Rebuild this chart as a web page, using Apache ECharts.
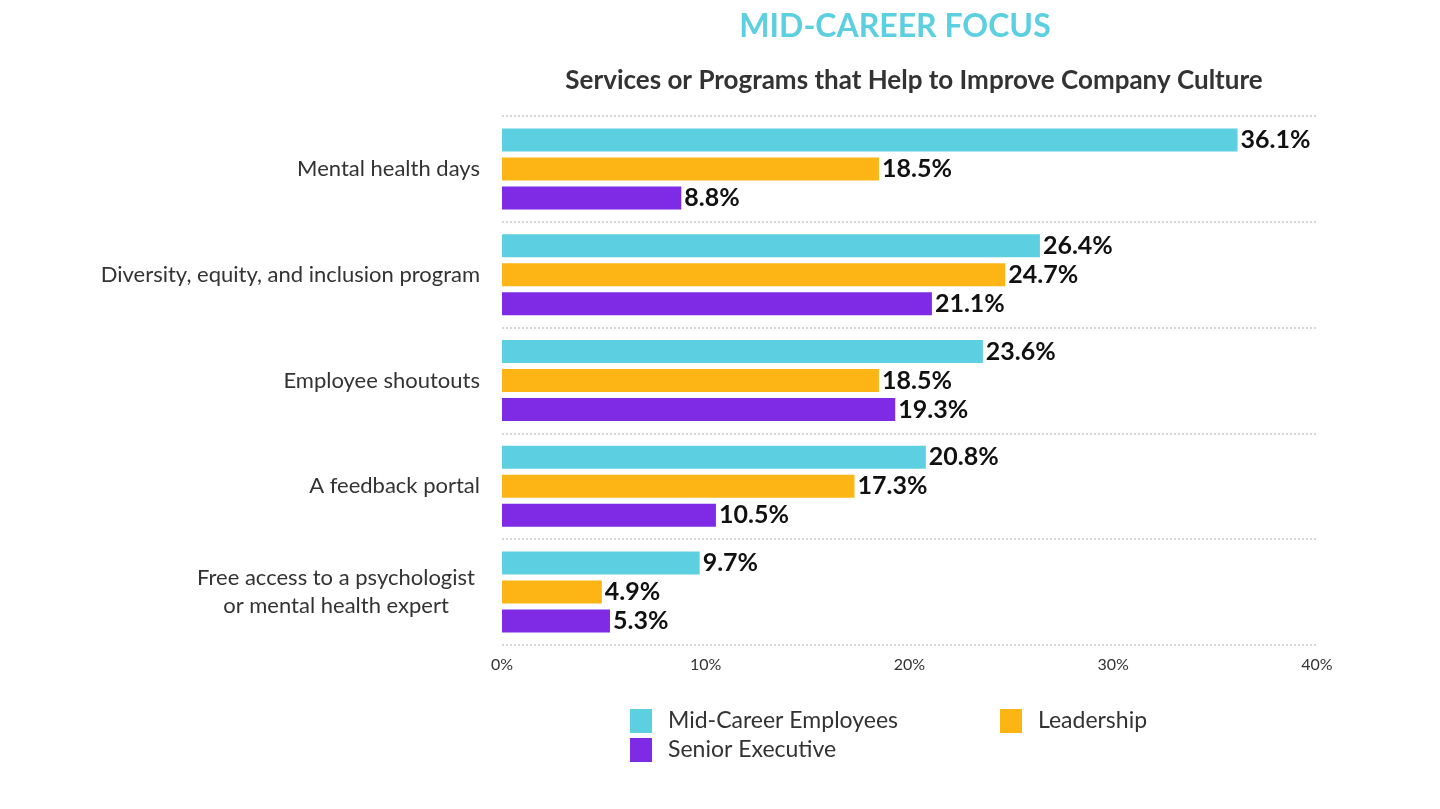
<!DOCTYPE html>
<html><head><meta charset="utf-8">
<script src="https://cdn.jsdelivr.net/npm/echarts@6/dist/echarts.min.js"></script>
<style>html,body{margin:0;padding:0;background:#fff}#c{width:1440px;height:809px}</style>
</head><body><div id="c"></div>
<script>
const categories = ["Mental health days","Diversity, equity, and inclusion program","Employee shoutouts","A feedback portal","Free access to a psychologist\nor mental health expert"];
const seriesNames = ["Mid-Career Employees","Leadership","Senior Executive"];
const midCareer = [36.1, 26.4, 23.6, 20.8, 9.7];
const leadership = [18.5, 24.7, 18.5, 17.3, 4.9];
const seniorExec = [8.8, 21.1, 19.3, 10.5, 5.3];
const xTicks = [0, 10, 20, 30, 40];
const colors = ["#5ccfe0", "#fdb515", "#7f2be6"];

const chart = echarts.init(document.getElementById('c'));
const F = 'Lato';
function mk(name, data, color) {
  return {
    name, type: 'bar', data, barWidth: 23, barGap: '26%',
    itemStyle: { color },
    label: { show: true, position: 'right', distance: 3, formatter: p => p.value.toFixed(1) + '%',
      fontFamily: F, fontWeight: 'bold', fontSize: 25, color: '#111' }
  };
}
const legText = { fontFamily: F, fontSize: 23, color: '#333', padding: [0, 0, 0, 11] };
chart.setOption({
  animation: false,
  title: [
    { text: 'MID-CAREER FOCUS', left: 890, top: 6, textAlign: 'center',
      textStyle: { fontFamily: F, fontWeight: 'bold', fontSize: 32, color: '#5ccfe0' } },
    { text: 'Services or Programs that Help to Improve Company Culture', left: 909, top: 63, textAlign: 'center',
      textStyle: { fontFamily: F, fontWeight: 'bold', fontSize: 26, color: '#333' } }
  ],
  legend: [
    { data: [seriesNames[0], seriesNames[2]], orient: 'vertical', left: 625, top: 704, itemWidth: 22, itemHeight: 24, itemGap: 5,
      icon: 'rect', textStyle: legText },
    { data: [seriesNames[1]], left: 995, top: 704, itemWidth: 22, itemHeight: 24,
      icon: 'rect', textStyle: legText }
  ],
  grid: { left: 502, right: 123, top: 116, bottom: 164, containLabel: false },
  xAxis: {
    type: 'value', min: 0, max: 40, interval: 10,
    splitLine: { show: false }, axisLine: { show: false }, axisTick: { show: false },
    axisLabel: { formatter: v => xTicks.includes(v) ? v + '%' : '', fontFamily: F, fontSize: 16, color: '#333', margin: 12 }
  },
  yAxis: {
    type: 'category', data: categories, inverse: true,
    axisLine: { show: false }, axisTick: { show: false },
    splitLine: { show: true, lineStyle: { type: 'dotted', color: '#d6d6d6', width: 2 } },
    axisLabel: {
      margin: 22, fontFamily: F, fontSize: 22, color: '#333', lineHeight: 28,
      formatter: v => v.indexOf('\n') >= 0 ? v.split('\n').map(s => '{w|' + s + '}').join('\n') : v,
      rich: { w: { width: 288, align: 'center', fontFamily: F, fontSize: 22, color: '#333', lineHeight: 28 } }
    }
  },
  series: [mk(seriesNames[0], midCareer, colors[0]), mk(seriesNames[1], leadership, colors[1]), mk(seriesNames[2], seniorExec, colors[2])]
});
</script></body></html>
